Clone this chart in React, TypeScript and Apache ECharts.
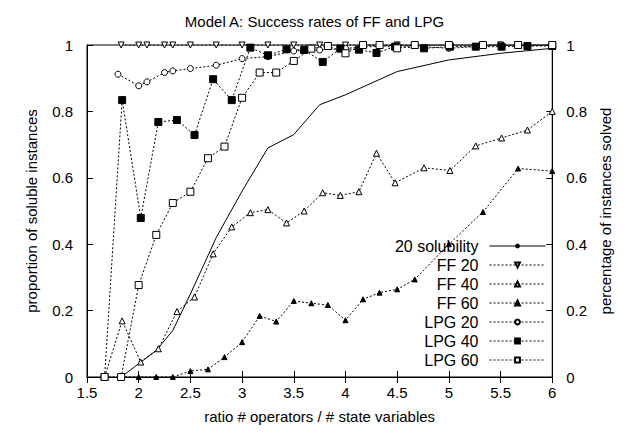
import React, { useEffect, useRef } from 'react'
import * as echarts from 'echarts'

const solubility = [
  [1.83, 0], [2.0, 0.04], [2.17, 0.08], [2.33, 0.14], [2.5, 0.25], [2.75, 0.42], [3.0, 0.56],
  [3.25, 0.69], [3.5, 0.73], [3.75, 0.82], [4.0, 0.85], [4.5, 0.92], [5.0, 0.955], [5.5, 0.975], [6.0, 0.99],
]
const ff20 = [
  [1.83, 1], [2.0, 1], [2.08, 1], [2.25, 1], [2.33, 1], [2.5, 1], [2.75, 1], [3.0, 1], [3.25, 1], [3.5, 1],
  [3.75, 1], [4.0, 1], [4.5, 1], [5.0, 1], [5.5, 1], [6.0, 1],
]
const ff40 = [
  [1.67, 0], [1.84, 0.169], [2.02, 0.045], [2.19, 0.085], [2.37, 0.197], [2.54, 0.241], [2.72, 0.371],
  [2.9, 0.452], [3.08, 0.495], [3.25, 0.504], [3.43, 0.464], [3.6, 0.5], [3.78, 0.555], [3.95, 0.547],
  [4.13, 0.558], [4.3, 0.674], [4.48, 0.585], [4.76, 0.63], [5.01, 0.622], [5.26, 0.696], [5.51, 0.72],
  [5.76, 0.744], [6.0, 0.8],
]
const ff60 = [
  [1.83, 0], [2.0, 0], [2.17, 0], [2.33, 0], [2.5, 0.018], [2.67, 0.023], [2.83, 0.06], [3.0, 0.105],
  [3.17, 0.184], [3.33, 0.167], [3.5, 0.229], [3.67, 0.222], [3.83, 0.217], [4.0, 0.171], [4.17, 0.234],
  [4.33, 0.254], [4.5, 0.264], [4.67, 0.294], [5.0, 0.4], [5.33, 0.497], [5.67, 0.628], [6.0, 0.62],
]
const lpg20 = [
  [1.8, 0.912], [2.0, 0.877], [2.08, 0.889], [2.25, 0.917], [2.33, 0.922], [2.5, 0.929], [2.75, 0.939],
  [3.0, 0.959], [3.25, 0.965], [3.5, 0.982], [3.75, 0.985], [4.0, 0.99], [4.5, 1], [5.0, 0.99], [5.5, 1], [6.0, 1],
]
const lpg40 = [
  [1.67, 0], [1.84, 0.834], [2.02, 0.479], [2.19, 0.768], [2.37, 0.774], [2.54, 0.729], [2.72, 0.897],
  [2.9, 0.834], [3.08, 0.992], [3.25, 0.969], [3.43, 0.987], [3.6, 0.985], [3.78, 0.949], [3.95, 0.989],
  [4.13, 0.986], [4.3, 0.976], [4.48, 0.995], [4.76, 0.99], [5.01, 0.995], [5.26, 0.995], [5.51, 0.995],
  [5.76, 0.997], [6.0, 0.997],
]
const lpg60 = [
  [1.67, 0], [1.83, 0], [2.0, 0.277], [2.17, 0.428], [2.33, 0.524], [2.5, 0.558], [2.67, 0.659],
  [2.83, 0.694], [3.0, 0.841], [3.17, 0.917], [3.33, 0.917], [3.5, 0.952], [3.67, 0.989], [3.83, 0.997],
  [4.0, 0.975], [4.17, 1], [4.33, 1], [4.5, 0.99], [4.67, 1], [5.0, 1], [5.33, 1], [5.67, 1], [6.0, 1],
]

const font = 'Liberation Sans, Arial, sans-serif'

function dotted(name: string, data: number[][], symbol: string, filled: boolean, size = 6, rotate = 0) {
  return {
    name, type: 'line', data, symbol, symbolSize: size, symbolRotate: rotate,
    lineStyle: { color: '#000', width: 1, type: [2, 2] },
    itemStyle: { color: filled ? '#000' : '#fff', borderColor: '#000', borderWidth: 1 },
  }
}

export default function App() {
  const ref = useRef<HTMLDivElement>(null)
  useEffect(() => {
    const chart = echarts.init(ref.current, null, { renderer: 'svg' })
    const yCommon = {
      type: 'value', min: 0, max: 1, interval: 0.2, nameLocation: 'middle',
      nameTextStyle: { fontSize: 15, color: '#000', fontFamily: font },
      axisLine: { show: true, lineStyle: { color: '#000' } },
      axisTick: { inside: true, length: 6, lineStyle: { color: '#000' } },
      axisLabel: { fontSize: 15, color: '#000', fontFamily: font, margin: 14 },
      splitLine: { show: false },
    }
    chart.setOption({
      animation: false,
      title: {
        text: 'Model A: Success rates of FF and LPG', left: 'center', top: 1,
        textStyle: { fontSize: 15, fontWeight: 'normal', color: '#000', fontFamily: font },
      },
      grid: { left: 79, right: 66, top: 37, bottom: 54, show: true, borderColor: '#000', borderWidth: 1 },
      xAxis: [
        {
          type: 'value', min: 1.5, max: 6, interval: 0.5, name: 'ratio # operators / # state variables',
          nameLocation: 'middle', nameGap: 32,
          nameTextStyle: { fontSize: 15, color: '#000', fontFamily: font },
          axisLine: { lineStyle: { color: '#000' } },
          axisTick: { inside: true, length: 6, lineStyle: { color: '#000' } },
          axisLabel: { fontSize: 15, color: '#000', fontFamily: font, margin: 8 },
          splitLine: { show: false },
        },
        {
          type: 'value', min: 1.5, max: 6, interval: 0.5, position: 'top',
          axisLine: { lineStyle: { color: '#000' } },
          axisTick: { inside: true, length: 6, lineStyle: { color: '#000' } },
          axisLabel: { show: false }, splitLine: { show: false },
        },
      ],
      yAxis: [
        { ...yCommon, name: 'proportion of soluble instances', nameGap: 48 },
        { ...yCommon, position: 'right', name: 'percentage of instances solved', nameGap: 40, nameRotate: 90 },
      ],
      legend: {
        orient: 'vertical', right: 70, bottom: 58, align: 'right', itemGap: 3,
        itemWidth: 56, itemHeight: 6,
        lineStyle: { width: 1 },
        textStyle: { fontSize: 16, color: '#000', fontFamily: font, padding: [0, 6, 0, 0] },
      },
      series: [
        { name: '20 solubility', type: 'line', data: solubility, symbol: 'none', lineStyle: { color: '#000', width: 1 }, itemStyle: { color: '#000' } },
        dotted('FF 20', ff20, 'triangle', false, 6, 180),
        dotted('FF 40', ff40, 'triangle', false, 6),
        dotted('FF 60', ff60, 'triangle', true, 5),
        dotted('LPG 20', lpg20, 'circle', false, 6),
        dotted('LPG 40', lpg40, 'rect', true, 7),
        dotted('LPG 60', lpg60, 'rect', false, 7),
      ],
    })
    return () => chart.dispose()
  }, [])
  return <div ref={ref} style={{ width: 613, height: 423 }} />
}
